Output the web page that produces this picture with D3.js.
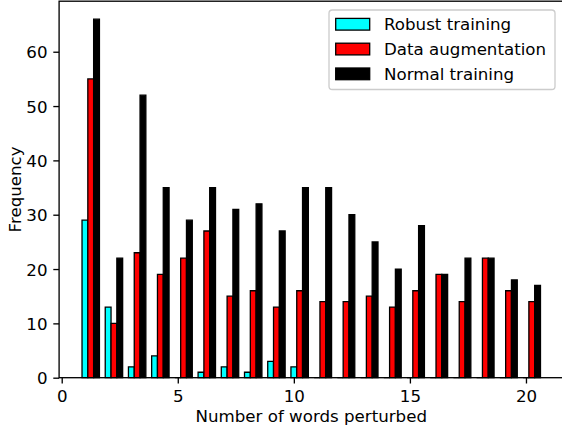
<!DOCTYPE html>
<html><head><meta charset="utf-8">
<script src="https://cdn.jsdelivr.net/npm/d3@7/dist/d3.min.js"></script>
<style>body{margin:0;background:#fff}svg{display:block}text{font-family:"DejaVu Sans",sans-serif}</style>
</head><body><svg id="c" width="562" height="428"></svg>
<script>
const words = d3.range(1, 21);
const robust = [29,13,2,4,0,1,2,1,3,2,0,0,0,0,0,0,0,0,0,0];
const augment = [55,10,23,19,22,27,15,16,13,16,14,14,15,13,16,19,14,22,16,14];
const normal = [66,22,52,35,29,35,31,32,27,35,35,30,25,20,28,19,22,22,18,17];
const seriesNames = ["Robust training","Data augmentation","Normal training"];
const seriesColors = ["#00ffff","#ff0000","#000000"];
const xTicks = [0,5,10,15,20];
const yTicks = [0,10,20,30,40,50,60];

const svg = d3.select("#c");
const L = 59.1, R = 563.4, T = 1.2, B = 377.7;
const bw = 0.25;
const x = d3.scaleLinear().domain([1 - bw/2 - 0.9875, 20 + 2*bw + bw/2 + 0.9875]).range([L, R]);
const yMax = d3.max(normal) * 1.05;
const y = d3.scaleLinear().domain([0, yMax]).range([B, T]);
const fs = 16.67;

const all = [robust, augment, normal];
all.forEach((vals, si) => {
  svg.append("g").selectAll("path").data(words).join("path")
    .attr("d", (w, i) => {
      const x0 = x(w + si*bw - bw/2), x1 = x(w + si*bw + bw/2);
      const y0 = y(0), y1 = y(vals[i]);
      return `M${x0},${y0}H${x1}V${y1}H${x0}Z`;
    })
    .attr("fill", seriesColors[si])
    .attr("stroke", "#000").attr("stroke-width", 1.3);
});

// spines
svg.append("rect").attr("x", L).attr("y", T).attr("width", R-L).attr("height", B-T)
  .attr("fill","none").attr("stroke","#000").attr("stroke-width",1.33);

const xAxis = d3.axisBottom(x).tickValues(xTicks).tickSize(5.8).tickPadding(5.8).tickFormat(d3.format("d"));
const gx = svg.append("g").attr("transform",`translate(0,${B})`).call(xAxis);
const yAxis = d3.axisLeft(y).tickValues(yTicks).tickSize(5.8).tickPadding(5.8).tickFormat(d3.format("d"));
const gy = svg.append("g").attr("transform",`translate(${L},0)`).call(yAxis);
[gx, gy].forEach(g => {
  g.select(".domain").remove();
  g.selectAll("line").attr("stroke","#000").attr("stroke-width",1.33);
  g.selectAll("text").attr("font-size", fs).attr("font-family","DejaVu Sans").attr("fill","#000");
});
gx.selectAll("text").attr("dy","0.78em");
gy.selectAll("text").attr("dy","0.36em");

svg.append("text").attr("x",(L+R)/2).attr("y",421.5).attr("text-anchor","middle")
  .attr("font-size",fs).text("Number of words perturbed");
svg.append("text").attr("transform",`translate(20.5,${(T+B)/2}) rotate(-90)`).attr("text-anchor","middle")
  .attr("font-size",fs).text("Frequency");

// legend
const lg = svg.append("g");
lg.append("rect").attr("x",329).attr("y",10).attr("width",226).attr("height",79.5).attr("rx",3.3)
  .attr("fill","#fff").attr("fill-opacity",0.8).attr("stroke","#cccccc").attr("stroke-width",1.33);
seriesNames.forEach((n, i) => {
  const cy = 24.2 + i*24.8;
  lg.append("rect").attr("x",335.7).attr("y",cy-5.8).attr("width",34).attr("height",11.7)
    .attr("fill",seriesColors[i]).attr("stroke","#000").attr("stroke-width",1.3);
  lg.append("text").attr("x",384).attr("y",cy).attr("dy","0.36em").attr("font-size",fs).text(n);
});
</script></body></html>
